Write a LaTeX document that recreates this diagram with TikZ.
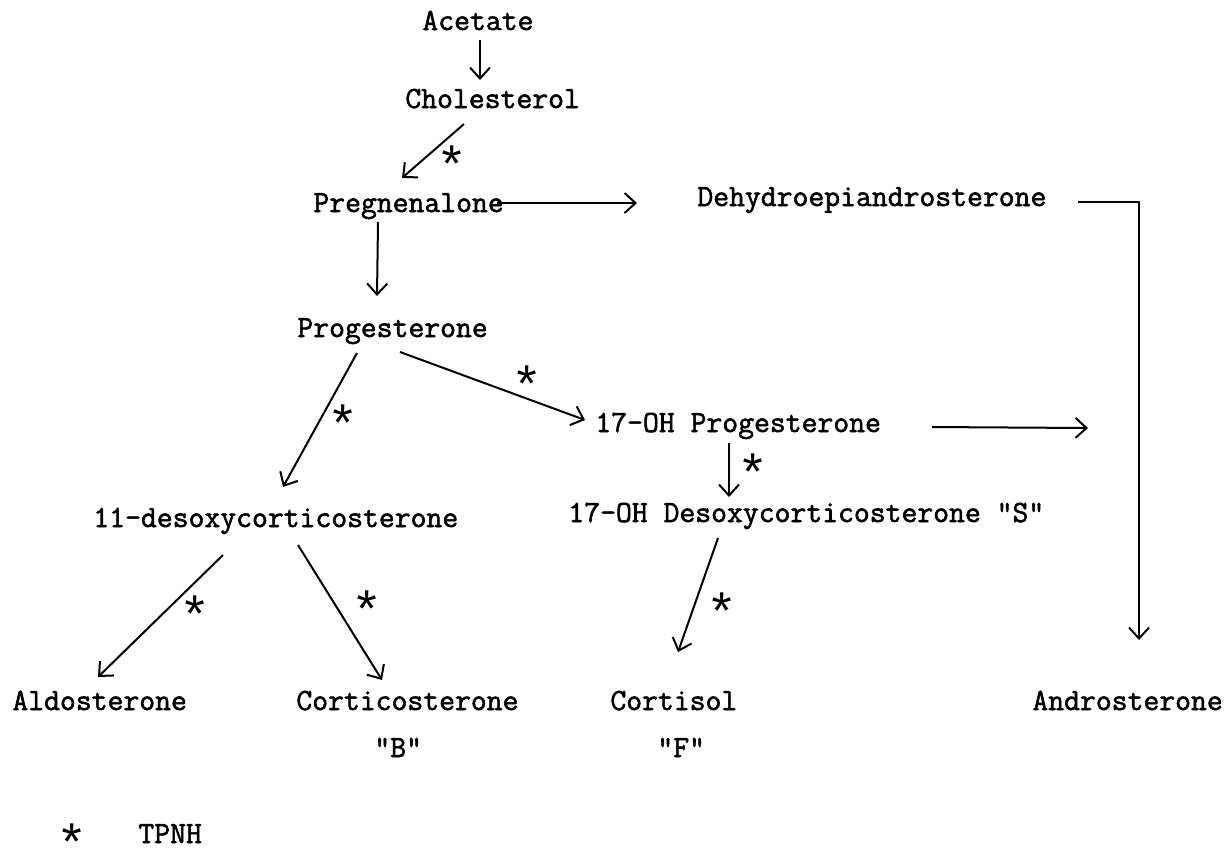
\documentclass[tikz,border=0pt]{standalone}
\usepackage{fontspec}
\usetikzlibrary{arrows.meta,calc}
\newfontfamily\typefont[FakeBold=1.8]{Latin Modern Mono}
\newfontfamily\starfont{Liberation Mono}
\newcommand\chemtxt{\typefont\fontsize{15.4pt}{17pt}\selectfont}
\newcommand\chemstar{\starfont\fontsize{26pt}{28pt}\selectfont}
\newcommand\tpnhmark{\raisebox{-12.7pt}{*}}
\tikzset{
  lbl/.style={font=\chemtxt, anchor=base west, inner sep=0pt},
  arr/.style={line width=1pt, -{Straight Barb[length=5.5pt,width=10pt,line width=1pt]}},
  ast/.style={font=\chemstar, inner sep=0pt, text height=3pt, text depth=3pt},
}
\begin{document}
\begin{tikzpicture}[x=0.5pt,y=-0.5pt]
\useasboundingbox (0,0) rectangle (1225,848);
% compounds
\node[lbl] (ace)   at (422,30)  {Acetate};
\node[lbl] (chol)  at (405,108) {Cholesterol};
\node[lbl] (preg)  at (313,212) {Pregnenalone};
\node[lbl] (dhea)  at (697,206) {Dehydroepiandrosterone};
\node[lbl] (prog)  at (297,337) {Progesterone};
\node[lbl] (ohp)   at (595,432) {17-OH Progesterone};
\node[lbl] (doc)   at (93,527)  {11-desoxycorticosterone};
\node[lbl] (ohd)   at (568,522) {17-OH Desoxycorticosterone "S"};
\node[lbl] (aldo)  at (12,710)  {Aldosterone};
\node[lbl] (cort)  at (296,710) {Corticosterone};
\node[lbl] (bB)    at (374,757) {"B"};
\node[lbl] (cortf) at (610,710) {Cortisol};
\node[lbl] (fF)    at (657,757) {"F"};
\node[lbl] (andro) at (1032,710) {Androsterone};
\coordinate (join) at (1088,428);
% connectors
\draw[arr] ($(ace.base west)+(58,10)$) -- ($(chol.base west)+(75,-28)$);
\draw[arr] ($(chol.base west)+(59,16)$) -- ($(preg.base west)+(89,-34)$);
\draw[arr] ($(preg.base west)+(184,-9)$) -- ($(dhea.base west)+(-60,-3)$);
\draw[arr] ($(preg.base west)+(65,10)$) -- ($(prog.base west)+(80,-41)$);
\draw[arr] ($(dhea.base west)+(381,-4)$) -| ($(andro.base west)+(107,-70)$);
\draw[arr] ($(prog.base west)+(60,16)$) -- ($(doc.base west)+(190,-40)$);
\draw[arr] ($(prog.base west)+(103,15)$) -- ($(ohp.base west)+(-10,-12)$);
\draw[arr] ($(ohp.base west)+(337,-5)$) -- (join);
\draw[arr] ($(ohp.base west)+(134,11)$) -- ($(ohd.base west)+(161,-25)$);
\draw[arr] ($(doc.base west)+(130,28)$) -- ($(aldo.base west)+(86,-33)$);
\draw[arr] ($(doc.base west)+(205,18)$) -- ($(cort.base west)+(86,-30)$);
\draw[arr] ($(ohd.base west)+(150,16)$) -- ($(cortf.base west)+(68,-58)$);
% TPNH marks
\node[ast] (s1) at (452,158) {\tpnhmark};
\node[ast] (s2) at (527,378) {\tpnhmark};
\node[ast] (s3) at (343,417) {\tpnhmark};
\node[ast] (s4) at (753,466) {\tpnhmark};
\node[ast] (s5) at (195,608) {\tpnhmark};
\node[ast] (s6) at (367,603) {\tpnhmark};
\node[ast] (s7) at (722,605) {\tpnhmark};
% legend
\node[ast] (ls) at (72,836) {\tpnhmark};
\node[lbl] (tpnh) at (138,843) {TPNH};
\end{tikzpicture}
\end{document}
